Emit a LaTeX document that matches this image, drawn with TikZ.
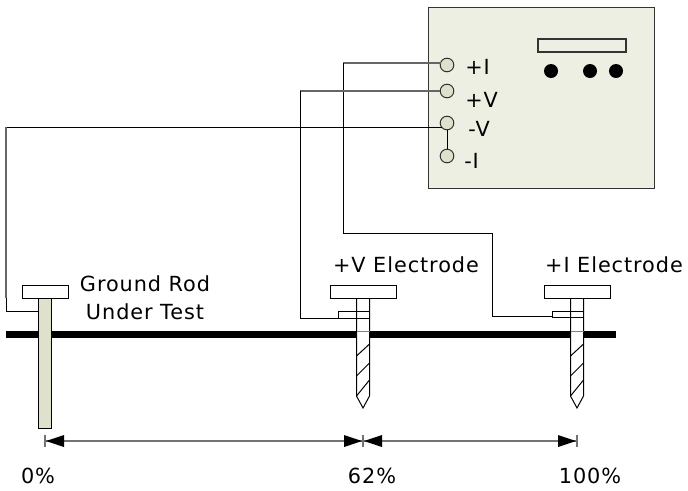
\documentclass[tikz,border=0pt]{standalone}
\usepackage{fontspec}
\setmainfont[LetterSpace=4.5]{DejaVu Sans}
\definecolor{boxfill}{HTML}{EEEFE3}
\definecolor{rodfill}{HTML}{DFE1CC}
\definecolor{wire}{HTML}{333333}
\tikzset{
  x=0.75pt,y=-0.75pt,
  wireline/.style={draw=black,line width=0.75pt},
  greywire/.style={draw=black!60,line width=1pt},
  outline/.style={draw=black,line width=0.75pt},
  terminal/.style={circle,draw=wire,fill=rodfill,line width=0.75pt,minimum size=10.2pt,inner sep=0pt},
  knob/.style={circle,fill=black,minimum size=10.5pt,inner sep=0pt},
  lbl/.style={font=\fontsize{15.6pt}{18pt}\selectfont,inner sep=0pt,align=center},
  dimline/.style={draw=black!55,line width=0.8pt},
  tri/.style={fill=black},
}
\newcommand{\electrode}[1]{%
  \begin{scope}[shift={(#1,0)}]
    \fill[white] (-6.5,298) rectangle (6.5,338);
    \draw[outline,fill=white] (-33,285) rectangle (33,298);
    \draw[outline] (-6.5,298) -- (-6.5,396) -- (0,408) -- (6.5,396) -- (6.5,298);
    \draw[draw=black!50,line width=0.7pt] (-6.5,331) -- (6.5,331);
    \draw[outline] (-6.5,356) -- (6.5,344);
    \draw[outline] (-6.5,376) -- (6.5,363);
    \draw[outline] (-6.5,396) -- (6.5,380);
  \end{scope}}
\begin{document}
\begin{tikzpicture}
\useasboundingbox (0,0) rectangle (688,490);
% ground bar
\fill[black] (6,331) rectangle (616,338);
% meter
\node[draw=wire,fill=boxfill,line width=0.9pt,minimum width=169.5pt,minimum height=135.75pt,inner sep=0pt,anchor=north west] (meter) at (428,7) {};
\node[draw=wire,fill=boxfill,line width=0.8pt,minimum width=66pt,minimum height=9.75pt,inner sep=0pt] (display) at (582,45.5) {};
\node[knob] (k1) at (551,71) {};
\node[knob] (k2) at (590,71) {};
\node[knob] (k3) at (616,71) {};
\node[terminal] (tpi) at (447,65) {};
\node[terminal] (tpv) at (447,91) {};
\node[terminal] (tmv) at (447,123) {};
\node[terminal] (tmi) at (447,156) {};
\draw[wireline] (tmv) -- (tmi);
\node[lbl,anchor=west] (lpi) at (465,67) {+I};
\node[lbl,anchor=west] (lpv) at (465,100) {+V};
\node[lbl,anchor=west] (lmv) at (468,129) {-V};
\node[lbl,anchor=west] (lmi) at (464,161) {-I};
% rods
\electrode{363}
\electrode{577}
\draw[outline,fill=rodfill] (38.5,298) rectangle (51.5,428);
\draw[outline,fill=white] (22,285) rectangle (68,298);
% taps
\coordinate (gtap) at (38.5,311.5);
\node[draw=black,line width=0.7pt,minimum width=23.25pt,minimum height=5pt,inner sep=0pt,anchor=north west] (vtap) at (338,311) {};
\node[draw=black,line width=0.7pt,minimum width=23.25pt,minimum height=4.5pt,inner sep=0pt,anchor=north west] (itap) at (552,311) {};
\coordinate (vend) at (369,318);
\coordinate (iend) at (552,316);
% wires
\draw[greywire] ([shift={(-6,-2)}]tpi.center) -- (343,63);
\draw[wireline] (343,63) -- (343,233) -- (492,233) -- (492,316) -- (iend);
\draw[greywire] ([shift={(-7,0)}]tpv.center) -- (300,91);
\draw[wireline] (300,91) -- (300,318) -- (vend);
\draw[wireline] ([shift={(-5,4)}]tmv.center) -- (6,127);
\draw[greywire] (6,127) -- (6,298);
\draw[wireline] (6,298) -- (6,311.5) -- (gtap);
% labels
\node[lbl] (g1) at (145,284) {Ground Rod};
\node[lbl] (g2) at (145,312) {Under Test};
\node[lbl] (e1) at (406,265) {+V Electrode};
\node[lbl] (e2) at (614,265) {+I Electrode};
\node[lbl] (p0) at (38,476) {0\%};
\node[lbl] (p1) at (372,476) {62\%};
\node[lbl] (p2) at (590,476) {100\%};
% dimensions
\coordinate (d0) at (45,441);
\coordinate (d1) at (363,441);
\coordinate (d2) at (577,441);
\draw[dimline] (d0) -- (d1) -- (d2);
\draw[dimline] (45,435) -- (45,447);
\draw[dimline] (363,435) -- (363,447);
\draw[dimline] (577,435) -- (577,447);
\fill[tri] (46,441) -- (64,435) -- (64,447) -- cycle;
\fill[tri] (362,441) -- (344,435) -- (344,447) -- cycle;
\fill[tri] (364,441) -- (382,435) -- (382,447) -- cycle;
\fill[tri] (576,441) -- (558,435) -- (558,447) -- cycle;
\end{tikzpicture}
\end{document}
